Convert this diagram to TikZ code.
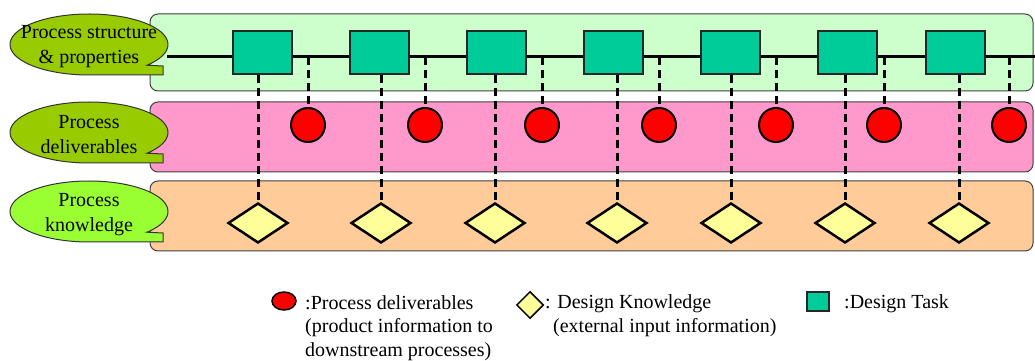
\documentclass[tikz,border=0pt]{standalone}
\usepackage{fontspec}
\setmainfont{Liberation Serif}
\usetikzlibrary{shapes.geometric,calc}
\definecolor{bandgreen}{HTML}{CCFFCC}
\definecolor{bandpink}{HTML}{FF99CC}
\definecolor{bandorange}{HTML}{FFCC99}
\definecolor{taskc}{HTML}{00CC99}
\definecolor{knowc}{HTML}{FFFF99}
\definecolor{calloutA}{HTML}{99CC00}
\definecolor{calloutB}{HTML}{99FF33}
\newcommand{\mycallout}[3]{%
  \path[callout, fill=#3] ($(#1,#2)+(-42.8:79 and 30.5)$)
    arc[start angle=-42.8, end angle=270, x radius=79, y radius=30.5]
    -- ++(74,0) -- ++(0,9) -- cycle;}
\begin{document}
\begin{tikzpicture}[x=1pt,y=1pt,
  band/.style={draw=black!75, line width=1pt, rounded corners=8pt},
  task/.style={rectangle, draw=black!85, line width=2pt, fill=taskc, minimum width=59pt, minimum height=43pt, inner sep=0},
  deliv/.style={circle, draw=black, line width=2pt, fill=red, minimum size=34pt, inner sep=0},
  know/.style={diamond, draw=black, line width=2.5pt, fill=knowc, minimum width=60pt, minimum height=40pt, aspect=1.5, inner sep=0},
  link/.style={line width=3pt, dash pattern=on 8pt off 5pt},
  lbl/.style={font=\fontsize{20}{25}\selectfont, inner sep=0},
  leg/.style={font=\fontsize{20}{23.5}\selectfont, inner sep=0},
  callout/.style={draw=black!80, line width=1pt}
]
\useasboundingbox (0,0) rectangle (1035,361);
\clip (0,0) rectangle (1035,361);

% bands
\path[band, fill=bandgreen] (150,270) rectangle (1033,347);
\path[band, fill=bandpink] (150,189) rectangle (1033,259);
\path[band, fill=bandorange] (150,110) rectangle (1033,180);

% callouts
\mycallout{89}{316.5}{calloutA}
\mycallout{89}{228.5}{calloutA}
\mycallout{89}{149.5}{calloutB}
\node[lbl, align=center] (c1) at (89,314.5) {Process structure\\\& properties};
\node[lbl, align=center] (c2) at (89,226.5) {Process\\deliverables};
\node[lbl, align=center] (c3) at (89,146.5) {Process\\knowledge};

% main process line
\coordinate (lineL) at (167,304);
\coordinate (lineR) at (1035,304);
\draw[line width=3pt] (lineL) -- (lineR);

% nodes
\foreach \i/\x in {1/262.5,2/379.5,3/496.5,4/613.5,5/730.5,6/847.5,7/955.5}
  \node[task] (t\i) at (\x,308.5) {};
\foreach \i/\x in {1/308,2/425,3/542,4/659,5/776,6/884,7/1009}
  \node[deliv] (d\i) at (\x,236) {};
\foreach \i/\x in {1/258,2/381,3/495,4/617,5/731,6/845,7/959}
  \node[know] (k\i) at (\x,138) {};

% links
\foreach \i in {1,...,7}{
  \draw[link] (k\i.north |- t\i.south) -- (k\i.north);
  \draw[link] (d\i.north |- lineL) -- (d\i.north);
}

% legend
\node[ellipse, draw=black, line width=1.5pt, fill=red, minimum width=24pt, minimum height=18pt, inner sep=0] (lc) at (284,60) {};
\node[leg, align=left, anchor=base west] (lt1) at (305,5) {:Process deliverables\\(product information to\\downstream processes)};
\node[diamond, draw=black, line width=1.5pt, fill=knowc, minimum width=27pt, minimum height=27pt, inner sep=0] (ld) at (530,56) {};
\node[leg, align=left, anchor=base west] (lt2) at (545,28.5) {: Design Knowledge\\\hspace*{8pt}(external input information)};
\node[task, minimum width=22pt, minimum height=19pt, line width=1.5pt] (ls) at (818,59.5) {};
\node[leg, anchor=base west] (lt3) at (844,52) {:Design Task};
\end{tikzpicture}
\end{document}
